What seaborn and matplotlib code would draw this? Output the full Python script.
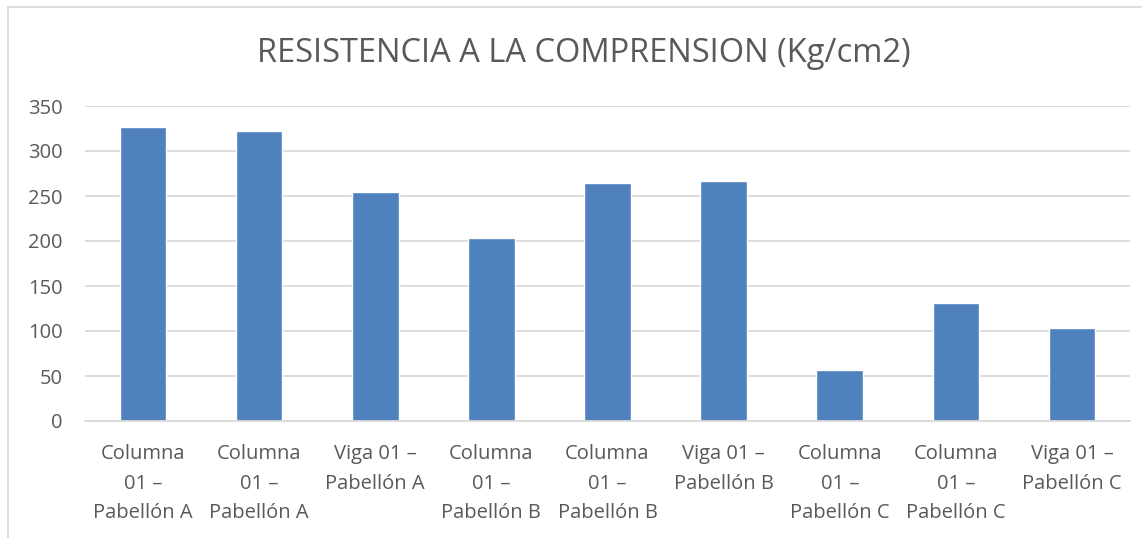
import matplotlib
matplotlib.use("Agg")
import matplotlib.pyplot as plt
import seaborn as sns
from matplotlib.lines import Line2D

# --- Datos ---
elementos = [
    "Columna\n01 –\nPabellón A",
    "Columna\n01 –\nPabellón A",
    "Viga 01 –\nPabellón A",
    "Columna\n01 –\nPabellón B",
    "Columna\n01 –\nPabellón B",
    "Viga 01 –\nPabellón B",
    "Columna\n01 –\nPabellón C",
    "Columna\n01 –\nPabellón C",
    "Viga 01 –\nPabellón C",
]
muestra_id = ["M1", "M2", "M3", "M4", "M5", "M6", "M7", "M8", "M9"]
resistencia = [327, 322, 254, 203, 264, 267, 57, 131, 103]
y_ticks = [0, 50, 100, 150, 200, 250, 300, 350]

GRIS_TXT = "#595959"
GRIS_LIN = "#d9d9d9"
AZUL = "#4F81BD"

sns.set_theme(style="white")
plt.rcParams["font.family"] = ["Open Sans", "DejaVu Sans"]

fig = plt.figure(figsize=(11.42, 5.38), dpi=100)
ax = fig.add_axes([85 / 1142, 1 - 421 / 538, 1045 / 1142, 315 / 538])

sns.barplot(x=muestra_id, y=resistencia, order=muestra_id, color=AZUL,
            saturation=1, width=0.4, ax=ax)

ax.set_ylim(0, 350)
ax.set_yticks(y_ticks)
ax.set_xlim(-0.5, len(muestra_id) - 0.5)
ax.set_xticks(range(len(elementos)))
ax.set_xticklabels(elementos, linespacing=1.65)
ax.yaxis.grid(True, color=GRIS_LIN, linewidth=1.3)
ax.set_axisbelow(True)
for s in ["top", "right", "left"]:
    ax.spines[s].set_visible(False)
ax.spines["bottom"].set_color(GRIS_LIN)
ax.spines["bottom"].set_linewidth(1.3)
ax.tick_params(axis="both", length=0, labelsize=14.5, colors=GRIS_TXT)
ax.tick_params(axis="y", pad=16)
ax.tick_params(axis="x", pad=16.5)
ax.set_xlabel("")
ax.set_ylabel("")

fig.suptitle("RESISTENCIA A LA COMPRENSION (Kg/cm2)", x=584 / 1142,
             y=1 - 37 / 538, va="top", fontsize=23.5, color=GRIS_TXT)

# borde del gráfico
fig.add_artist(Line2D([8 / 1142, 1], [1 - 7 / 538] * 2, color=GRIS_LIN, lw=1.3))
fig.add_artist(Line2D([8 / 1142] * 2, [0, 1 - 7 / 538], color=GRIS_LIN, lw=1.3))

fig.savefig("out.png", dpi=100, facecolor="white")
